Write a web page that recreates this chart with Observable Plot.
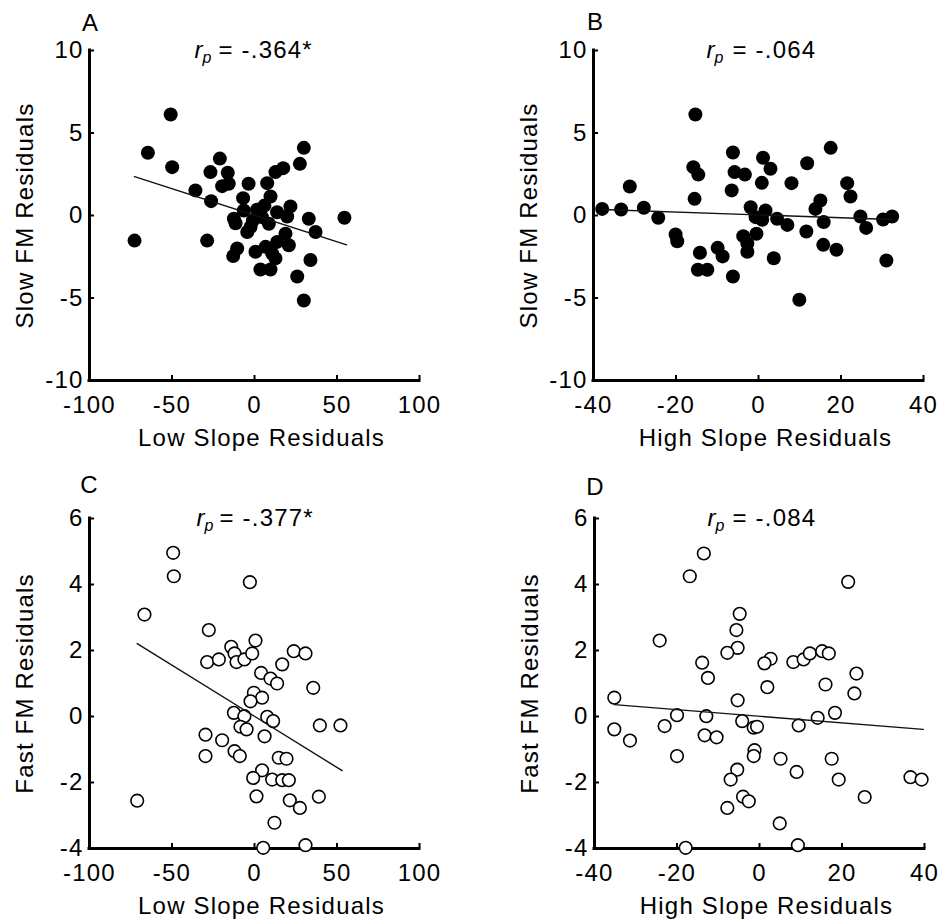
<!DOCTYPE html>
<html><head><meta charset="utf-8">
<script src="https://cdn.jsdelivr.net/npm/d3@7"></script>
<script src="https://cdn.jsdelivr.net/npm/@observablehq/plot@0.6"></script>
<style>
body{margin:0;background:#fff;}
#fig{position:relative;width:943px;height:924px;background:#fff;overflow:hidden;}
.panel{position:absolute;}
</style></head><body><div id="fig"></div>
<script>
// ---- Panel A: Low slope residuals vs Slow FM residuals (filled)
const aLowSlope = [-50.8,-64.6,-49.9,-72.7,-28.7,-35.8,-26.3,-21.0,-26.7,-16.2,-19.6,-15.6,-3.6,7.7,12.7,9.7,-6.9,-12.5,-11.5,-6.5,-4.4,-2.4,8.7,13.7,-10.5,-12.9,0.6,6.7,10.7,3.6,9.7,13.7,29.9,27.5,17.4,21.8,19.8,32.9,54.5,37.0,18.8,20.8,12.7,33.9,25.9,29.9,1.5,4.5,-1.0,6.0];
const aSlowFM   = [6.12,3.8,2.93,-1.52,-1.52,1.52,0.87,3.45,2.63,2.59,1.78,1.92,1.92,1.96,2.63,1.15,1.05,-0.2,-0.47,0.3,-1.0,-0.7,-0.5,0.2,-2.0,-2.46,-2.2,-1.9,-2.3,-3.27,-3.27,-1.6,4.1,3.13,2.87,0.55,-0.06,-0.2,-0.14,-1.0,-1.1,-1.8,-2.6,-2.7,-3.7,-5.15,0.35,-0.1,-0.3,0.6];
const aFitX = [-72.7, 55.8];
const aFitY = [2.36, -1.78];

// ---- Panel B: High slope residuals vs Slow FM residuals (filled)
const bHighSlope = [-15.3,-37.9,-33.3,-31.2,-27.8,-24.3,-20.1,-19.7,-15.8,-14.6,-15.5,-14.2,-14.7,-12.4,-9.9,-8.7,-6.2,-6.2,-5.8,-3.3,-6.5,-3.7,-2.7,-2.7,-1.9,17.5,11.8,1.1,2.9,0.8,8.0,21.5,22.3,15.0,13.8,1.7,-0.7,0.9,4.5,7.0,15.8,11.6,24.7,26.1,30.2,32.4,-0.5,3.7,15.7,18.9,31.0,9.9];
const bSlowFM    = [6.12,0.4,0.36,1.76,0.47,-0.14,-1.15,-1.56,2.93,2.48,1.01,-2.26,-3.29,-3.29,-1.96,-2.48,-3.7,3.82,2.63,2.48,1.52,-1.25,-1.7,-2.2,0.5,4.1,3.17,3.5,2.83,1.98,1.96,1.96,1.15,0.91,0.4,0.3,-0.1,-0.26,-0.2,-0.57,-0.4,-0.97,-0.06,-0.75,-0.24,-0.06,-1.11,-2.59,-1.78,-2.08,-2.73,-5.11];
const bFitX = [-37.9, 32.4];
const bFitY = [0.36, -0.24];

// ---- Panel C: Low slope residuals vs Fast FM residuals (open)
const cLowSlope = [-49.3,-48.9,-66.7,-71.1,-2.8,-27.7,-28.7,-21.6,-14.1,-12.1,-10.9,-6.1,-1.4,0.6,4.0,9.7,13.7,16.8,-0.4,4.6,-2.4,-12.5,-6.1,7.7,11.3,-8.5,-4.8,-29.7,-19.6,6.1,-29.7,-12.1,-8.9,14.7,4.6,-0.8,10.7,1.2,12.1,5.3,23.8,30.9,35.6,39.6,52.1,19.4,16.8,20.8,21.4,27.5,39.0,30.9];
const cFastFM   = [4.96,4.25,3.09,-2.55,4.07,2.62,1.65,1.73,2.11,1.91,1.65,1.73,1.91,2.3,1.32,1.15,1.0,1.58,0.72,0.57,0.46,0.11,0.01,-0.01,-0.14,-0.31,-0.39,-0.55,-0.72,-0.6,-1.2,-1.05,-1.2,-1.25,-1.63,-1.86,-1.91,-2.42,-3.22,-3.98,1.98,1.91,0.87,-0.27,-0.27,-1.28,-1.93,-1.93,-2.54,-2.77,-2.43,-3.9];
const cFitX = [-71.1, 53.1];
const cFitY = [2.21, -1.64];

// ---- Panel D: High slope residuals vs Fast FM residuals (open)
const dHighSlope = [-13.5,-16.9,-24.2,-35.2,-35.2,-31.4,-23.0,-20.0,-20.0,-13.9,-12.5,-12.9,-13.3,-10.4,-17.9,-4.8,-5.6,-5.3,-7.8,-5.3,-4.2,-5.4,-7.0,-7.8,-4.0,-2.6,21.5,2.7,1.2,8.2,10.7,12.2,15.2,16.8,1.9,16.0,23.5,23.0,18.3,14.1,9.5,-1.4,-0.6,-1.2,-1.4,5.1,9.0,17.5,19.2,36.6,39.3,25.5,4.9,9.3];
const dFastFM    = [4.94,4.25,2.3,0.57,-0.39,-0.73,-0.29,0.04,-1.2,1.63,1.17,0.01,-0.57,-0.63,-3.98,3.11,2.62,2.08,1.93,0.49,-0.14,-1.61,-1.91,-2.77,-2.43,-2.57,4.08,1.75,1.61,1.65,1.73,1.91,1.98,1.91,0.89,0.97,1.3,0.7,0.11,-0.04,-0.27,-0.34,-0.31,-1.02,-1.2,-1.28,-1.68,-1.28,-1.91,-1.84,-1.91,-2.44,-3.24,-3.9];
const dFitX = [-35.2, 39.7];
const dFitY = [0.36, -0.39];

// ---- ticks, labels
const lowSlopeTicks  = [-100, -50, 0, 50, 100];
const highSlopeTicks = [-40, -20, 0, 20, 40];
const slowFMTicks    = [-10, -5, 0, 5, 10];
const fastFMTicks    = [-4, -2, 0, 2, 4, 6];
const panelLetters = ["A", "B", "C", "D"];
const rValues = ["-.364*", "-.064", "-.377*", "-.084"];
const xTitles = ["Low Slope Residuals", "High Slope Residuals", "Low Slope Residuals", "High Slope Residuals"];
const yTitles = ["Slow FM Residuals", "Slow FM Residuals", "Fast FM Residuals", "Fast FM Residuals"];

const fig = document.getElementById("fig");
const STYLE = "font-family:'Liberation Sans',Arial,Helvetica,sans-serif;font-size:24px;letter-spacing:1.2px;background:white;overflow:visible;color:black;";

function panel(o) {
  const plotW = o.width - o.mL - o.mR;
  const plotH = o.height - o.mT - o.mB;
  const pts = o.xs.map((x, i) => ({x, y: o.ys[i]}));
  const fit = o.fitX.map((x, i) => ({x, y: o.fitY[i]}));
  const chart = Plot.plot({
    width: o.width, height: o.height,
    marginLeft: o.mL, marginRight: o.mR, marginTop: o.mT, marginBottom: o.mB,
    style: STYLE,
    x: {domain: [o.xTicks[0], o.xTicks[o.xTicks.length - 1]]},
    y: {domain: [o.yTicks[0], o.yTicks[o.yTicks.length - 1]]},
    marks: [
      Plot.axisX(o.xTicks, {tickSize: 0, tickPadding: 15, tickFormat: d => String(d), label: null, fontVariant: "normal"}),
      Plot.axisY(o.yTicks, {tickSize: 0, tickPadding: 6, tickFormat: d => String(d), label: null, fontVariant: "normal"}),
      Plot.ruleX(o.xTicks.slice(1), {insetTop: plotH - 5, strokeWidth: 2, stroke: "black"}),
      Plot.ruleY(o.yTicks.slice(1), {insetRight: plotW - 5, strokeWidth: 2, stroke: "black"}),
      Plot.ruleY([o.yTicks[0]], {strokeWidth: 3, stroke: "black", strokeLinecap: "square"}),
      Plot.ruleX([o.xTicks[0]], {strokeWidth: 3, stroke: "black", strokeLinecap: "square"}),
      o.filled
        ? Plot.dot(pts, {x: "x", y: "y", r: 7, fill: "black", stroke: "none"})
        : Plot.dot(pts, {x: "x", y: "y", r: 6.3, fill: "white", stroke: "black", strokeWidth: 1.6}),
      Plot.line(fit, {x: "x", y: "y", stroke: "#111", strokeWidth: 1.4}),
      Plot.text([o.yTitle], {text: d => d, frameAnchor: "left", rotate: -90, dx: -64, textAnchor: "middle", lineAnchor: "middle"}),
      Plot.text([o.xTitle], {text: d => d, frameAnchor: "bottom", dx: 7, dy: 57.5, textAnchor: "middle", lineAnchor: "middle"}),
      Plot.text([o.letter], {text: d => d, frameAnchor: "top-left", dx: o.letterDx, dy: o.letterDy, textAnchor: "middle", lineAnchor: "middle"}),
      Plot.text(["r"], {text: d => d, frameAnchor: "top", dx: o.rDx, dy: -0.5, textAnchor: "start", lineAnchor: "middle", fontStyle: "italic"}),
      Plot.text(["p"], {text: d => d, frameAnchor: "top", dx: o.rDx + 8, dy: 7, textAnchor: "start", lineAnchor: "middle", fontStyle: "italic", fontSize: 16}),
      Plot.text(["= " + o.rVal], {text: d => d, frameAnchor: "top", dx: o.eqDx, dy: -0.5, textAnchor: "start", lineAnchor: "middle"})
    ]
  });
  const div = document.createElement("div");
  div.className = "panel";
  div.style.left = o.left + "px";
  div.style.top = o.top + "px";
  div.appendChild(chart);
  fig.appendChild(div);
}

panel({left: 0, top: 0, width: 471, height: 462, mL: 89, mR: 52, mT: 50, mB: 82,
  xs: aLowSlope, ys: aSlowFM, fitX: aFitX, fitY: aFitY, xTicks: lowSlopeTicks, yTicks: slowFMTicks,
  filled: true, xTitle: xTitles[0], yTitle: yTitles[0], letter: panelLetters[0], letterDx: 1, letterDy: -27.5,
  rVal: rValues[0], rDx: -60, eqDx: -36});
panel({left: 471, top: 0, width: 472, height: 462, mL: 122, mR: 20, mT: 50, mB: 82,
  xs: bHighSlope, ys: bSlowFM, fitX: bFitX, fitY: bFitY, xTicks: highSlopeTicks, yTicks: slowFMTicks,
  filled: true, xTitle: xTitles[1], yTitle: yTitles[1], letter: panelLetters[1], letterDx: 2, letterDy: -28.5,
  rVal: rValues[1], rDx: -52, eqDx: -26});
panel({left: 0, top: 462, width: 471, height: 462, mL: 89, mR: 52, mT: 56, mB: 76,
  xs: cLowSlope, ys: cFastFM, fitX: cFitX, fitY: cFitY, xTicks: lowSlopeTicks, yTicks: fastFMTicks,
  filled: false, xTitle: xTitles[2], yTitle: yTitles[2], letter: panelLetters[2], letterDx: 0, letterDy: -33.5,
  rVal: rValues[2], rDx: -58, eqDx: -35});
panel({left: 471, top: 462, width: 472, height: 462, mL: 123, mR: 19, mT: 56, mB: 76,
  xs: dHighSlope, ys: dFastFM, fitX: dFitX, fitY: dFitY, xTicks: highSlopeTicks, yTicks: fastFMTicks,
  filled: false, xTitle: xTitles[3], yTitle: yTitles[3], letter: panelLetters[3], letterDx: 1, letterDy: -31.5,
  rVal: rValues[3], rDx: -52, eqDx: -27});
</script></body></html>
